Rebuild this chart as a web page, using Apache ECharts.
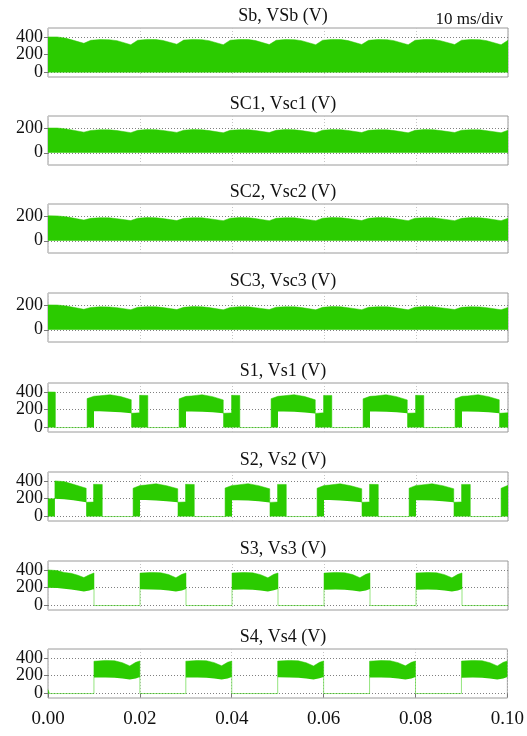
<!DOCTYPE html>
<html>
<head>
<meta charset="utf-8">
<script src="https://cdn.jsdelivr.net/npm/echarts@6/dist/echarts.min.js"></script>
<style>
  html, body { margin: 0; padding: 0; background: #fff; }
  #chart { width: 527px; height: 736px; }
</style>
</head>
<body>
<div id="chart"></div>
<script>
// ---- panel titles and tick labels ----
const TITLES = ['Sb, VSb (V)', 'SC1, Vsc1 (V)', 'SC2, Vsc2 (V)', 'SC3, Vsc3 (V)',
                'S1, Vs1 (V)', 'S2, Vs2 (V)', 'S3, Vs3 (V)', 'S4, Vs4 (V)'];
const Y_TICKS_HV = [0, 200, 400];
const Y_TICKS_LV = [0, 200];
const X_TICKS = [0, 0.02, 0.04, 0.06, 0.08, 0.10];

// ---- ripple envelopes (upper edge of the switching band, band starts at 0) ----
const T_RIP = [0, 0.0020, 0.0040, 0.0078, 0.0093, 0.0113, 0.0133, 0.0150,
  0.0180, 0.0195, 0.0215, 0.0235, 0.0250,
  0.0280, 0.0295, 0.0315, 0.0335, 0.0350,
  0.0381, 0.0396, 0.0416, 0.0436, 0.0451,
  0.0481, 0.0496, 0.0516, 0.0536, 0.0551,
  0.0582, 0.0597, 0.0617, 0.0637, 0.0652,
  0.0682, 0.0697, 0.0717, 0.0737, 0.0752,
  0.0783, 0.0798, 0.0818, 0.0838, 0.0853,
  0.0884, 0.0899, 0.0919, 0.0939, 0.0954,
  0.0985, 0.1000];
const V_SB = [400, 400, 384, 328, 362, 370, 368, 358,
  312, 362, 372, 370, 360,
  318, 364, 372, 369, 358,
  312, 363, 371, 370, 359,
  314, 362, 371, 369, 358,
  312, 363, 372, 370, 359,
  315, 362, 371, 369, 358,
  312, 362, 371, 370, 358,
  314, 363, 371, 369, 357,
  312, 362];
const V_SC1 = [202, 202, 194, 168, 182, 188, 187, 181,
  164, 183, 189, 188, 182,
  166, 184, 189, 187, 181,
  163, 183, 188, 188, 181,
  165, 183, 189, 187, 181,
  163, 184, 189, 188, 182,
  165, 183, 188, 187, 181,
  163, 183, 189, 188, 181,
  165, 184, 188, 187, 180,
  163, 184];
const V_SC2 = [204, 203, 195, 169, 183, 188, 187, 180,
  165, 184, 189, 187, 181,
  165, 183, 188, 187, 180,
  164, 184, 189, 188, 181,
  164, 183, 188, 187, 180,
  164, 184, 189, 187, 181,
  165, 183, 189, 188, 181,
  164, 184, 188, 187, 180,
  164, 183, 189, 187, 181,
  164, 183];
const V_SC3 = [203, 202, 194, 167, 182, 187, 186, 180,
  164, 183, 188, 187, 181,
  165, 183, 189, 187, 181,
  163, 182, 188, 187, 180,
  165, 184, 188, 187, 181,
  163, 183, 189, 187, 180,
  164, 183, 188, 187, 181,
  163, 184, 189, 187, 180,
  165, 183, 188, 186, 180,
  163, 182];

// ---- switch voltages: time, lower and upper edge of the band ----
const T_S1 = [0, 0.0016, 0.0016, 0.0085, 0.0085, 0.0100, 0.0100, 0.0112, 0.0112, 0.0135, 0.0158, 0.0181, 0.0181, 0.0199, 0.0199, 0.0217, 0.0217,
  0.0285, 0.0285, 0.0300, 0.0300, 0.0312, 0.0312, 0.0335, 0.0358, 0.0381, 0.0381, 0.0399, 0.0399, 0.0417, 0.0417,
  0.0485, 0.0485, 0.0500, 0.0500, 0.0512, 0.0512, 0.0535, 0.0558, 0.0581, 0.0581, 0.0599, 0.0599, 0.0617, 0.0617,
  0.0685, 0.0685, 0.0700, 0.0700, 0.0712, 0.0712, 0.0735, 0.0758, 0.0781, 0.0781, 0.0799, 0.0799, 0.0817, 0.0817,
  0.0885, 0.0885, 0.0900, 0.0900, 0.0912, 0.0912, 0.0935, 0.0958, 0.0981, 0.0981, 0.1000];
const LO_S1 = [0, 0, 0, 0, 0, 0, 182, 182, 182, 178, 172, 160, 0, 0, 0, 0, 0,
  0, 0, 0, 180, 180, 180, 177, 171, 160, 0, 0, 0, 0, 0,
  0, 0, 0, 181, 181, 181, 177, 170, 159, 0, 0, 0, 0, 0,
  0, 0, 0, 180, 180, 180, 176, 171, 160, 0, 0, 0, 0, 0,
  0, 0, 0, 181, 181, 181, 177, 171, 160, 0, 0];
const HI_S1 = [400, 398, 0, 0, 325, 352, 352, 356, 378, 368, 348, 312, 160, 165, 362, 360, 0,
  0, 322, 350, 350, 355, 376, 368, 347, 310, 160, 164, 362, 360, 0,
  0, 324, 351, 351, 356, 377, 369, 348, 311, 159, 165, 361, 360, 0,
  0, 322, 350, 350, 355, 376, 368, 347, 310, 160, 164, 362, 359, 0,
  0, 323, 351, 351, 355, 377, 368, 347, 311, 160, 166];

const T_S2 = [0, 0.0015, 0.0015, 0.0035, 0.0055, 0.0083, 0.0083, 0.0099, 0.0099, 0.0118, 0.0118,
  0.0185, 0.0185, 0.0200, 0.0200, 0.0212, 0.0212, 0.0235, 0.0258, 0.0282, 0.0282, 0.0299, 0.0299, 0.0318, 0.0318,
  0.0385, 0.0385, 0.0400, 0.0400, 0.0412, 0.0412, 0.0435, 0.0458, 0.0482, 0.0482, 0.0499, 0.0499, 0.0518, 0.0518,
  0.0585, 0.0585, 0.0600, 0.0600, 0.0612, 0.0612, 0.0635, 0.0658, 0.0682, 0.0682, 0.0699, 0.0699, 0.0718, 0.0718,
  0.0785, 0.0785, 0.0800, 0.0800, 0.0812, 0.0812, 0.0835, 0.0858, 0.0882, 0.0882, 0.0899, 0.0899, 0.0918, 0.0918,
  0.0985, 0.0985, 0.1000];
const LO_S2 = [0, 0, 200, 195, 182, 160, 0, 0, 0, 0, 0,
  0, 0, 0, 185, 185, 185, 180, 172, 160, 0, 0, 0, 0, 0,
  0, 0, 0, 184, 184, 184, 179, 172, 159, 0, 0, 0, 0, 0,
  0, 0, 0, 185, 185, 185, 180, 171, 160, 0, 0, 0, 0, 0,
  0, 0, 0, 184, 184, 184, 180, 172, 160, 0, 0, 0, 0, 0,
  0, 0, 0];
const HI_S2 = [200, 200, 400, 392, 362, 318, 160, 163, 362, 360, 0,
  0, 318, 348, 348, 354, 375, 368, 346, 312, 160, 164, 362, 360, 0,
  0, 320, 349, 349, 355, 376, 369, 347, 311, 159, 163, 361, 360, 0,
  0, 318, 348, 348, 354, 375, 368, 346, 312, 160, 164, 362, 359, 0,
  0, 319, 349, 349, 355, 376, 368, 347, 312, 160, 164, 361, 360, 0,
  0, 318, 350];

const T_S3 = [0, 0.0020, 0.0035, 0.0050, 0.0065, 0.0078, 0.0090, 0.0100, 0.0100,
  0.0200, 0.0200, 0.0225, 0.0245, 0.0262, 0.0278, 0.0291, 0.0300, 0.0300,
  0.0400, 0.0400, 0.0425, 0.0445, 0.0462, 0.0478, 0.0491, 0.0500, 0.0500,
  0.0600, 0.0600, 0.0625, 0.0645, 0.0662, 0.0678, 0.0691, 0.0700, 0.0700,
  0.0800, 0.0800, 0.0825, 0.0845, 0.0862, 0.0878, 0.0891, 0.0900, 0.0900,
  0.1000];
const LO_S3 = [200, 196, 188, 180, 168, 158, 168, 185, 0,
  0, 182, 180, 177, 170, 158, 170, 186, 0,
  0, 183, 181, 177, 169, 157, 171, 185, 0,
  0, 182, 180, 176, 170, 158, 170, 186, 0,
  0, 183, 180, 177, 169, 157, 170, 185, 0,
  0];
const HI_S3 = [400, 392, 372, 362, 340, 314, 345, 366, 0,
  0, 364, 372, 368, 348, 312, 350, 366, 0,
  0, 365, 371, 367, 347, 311, 351, 365, 0,
  0, 364, 372, 368, 348, 312, 350, 366, 0,
  0, 365, 371, 368, 347, 311, 350, 366, 0,
  0];

const T_S4 = [0, 0.0003, 0.0100,
  0.0100, 0.0125, 0.0145, 0.0162, 0.0178, 0.0191, 0.0200, 0.0200,
  0.0300, 0.0300, 0.0325, 0.0345, 0.0362, 0.0378, 0.0391, 0.0400, 0.0400,
  0.0500, 0.0500, 0.0525, 0.0545, 0.0562, 0.0578, 0.0591, 0.0600, 0.0600,
  0.0700, 0.0700, 0.0725, 0.0745, 0.0762, 0.0778, 0.0791, 0.0800, 0.0800,
  0.0900, 0.0900, 0.0925, 0.0945, 0.0962, 0.0978, 0.0991, 0.1000];
const LO_S4 = [0, 0, 0,
  180, 180, 176, 169, 157, 170, 186, 0,
  0, 181, 180, 177, 170, 158, 170, 185, 0,
  0, 182, 181, 176, 169, 157, 171, 186, 0,
  0, 181, 180, 177, 170, 158, 170, 185, 0,
  0, 182, 180, 177, 169, 157, 170, 186];
const HI_S4 = [45, 0, 0,
  362, 372, 368, 346, 310, 350, 366, 0,
  0, 363, 371, 368, 347, 311, 351, 365, 0,
  0, 364, 372, 367, 346, 310, 350, 366, 0,
  0, 363, 371, 368, 347, 311, 350, 365, 0,
  0, 364, 372, 368, 346, 310, 350, 366];

// ---- layout ----
const PLOT_LEFT = 48, PLOT_RIGHT = 19, PLOT_H = 49;
const PLOT_TOPS = [28, 116, 204, 293, 383, 472, 561, 649];
const SERIF = 'Liberation Serif';
const GREEN = '#2bcb00';
const EDGE = 'rgba(43,203,0,0.5)';

const Y_RANGES = [[-50, 500], [-100, 300], [-100, 300], [-100, 300],
                  [-50, 500], [-50, 500], [-50, 500], [-50, 500]];
const Y_TICKS = [Y_TICKS_HV, Y_TICKS_LV, Y_TICKS_LV, Y_TICKS_LV,
                 Y_TICKS_HV, Y_TICKS_HV, Y_TICKS_HV, Y_TICKS_HV];

const grids = [], xAxes = [], yAxes = [], titles = [], series = [];

PLOT_TOPS.forEach((top, i) => {
  grids.push({
    left: PLOT_LEFT, right: PLOT_RIGHT, top: top, height: PLOT_H,
    show: true, borderColor: '#9a9a9a', borderWidth: 1, backgroundColor: 'transparent'
  });
  const last = i === PLOT_TOPS.length - 1;
  xAxes.push({
    gridIndex: i, type: 'value', min: 0, max: 0.1, interval: 0.02,
    axisLine: { show: false },
    axisTick: { show: last, length: 4, lineStyle: { color: '#777' } },
    axisLabel: {
      show: last, margin: 12, color: '#111', fontFamily: SERIF, fontSize: 19,
      formatter: v => v.toFixed(2)
    },
    splitLine: { show: true, lineStyle: { type: [1, 2], color: '#c4c4c4', width: 1 } }
  });
  yAxes.push({
    gridIndex: i, type: 'value', min: Y_RANGES[i][0], max: Y_RANGES[i][1],
    axisLine: { show: false },
    axisTick: { show: true, length: 4, customValues: Y_TICKS[i], lineStyle: { color: '#777' } },
    axisLabel: {
      customValues: Y_TICKS[i], margin: 5, color: '#111',
      fontFamily: SERIF, fontSize: 18
    },
    splitLine: { show: true, lineStyle: { type: [1, 2], color: '#808080', width: 1 } }
  });
  titles.push({
    text: TITLES[i], left: 278, top: top - 26, textAlign: 'center',
    textStyle: { fontFamily: SERIF, fontSize: 18, fontWeight: 'normal', color: '#111' }
  });
});

titles.push({
  text: '10 ms/div', right: PLOT_RIGHT, top: 6,
  textStyle: { fontFamily: SERIF, fontSize: 17, fontWeight: 'normal', color: '#111' }
});

// band filled from the zero line up to an envelope
function rippleSeries(i, T, V) {
  return {
    type: 'line', xAxisIndex: i, yAxisIndex: i, symbol: 'none',
    data: T.map((t, j) => [t, V[j]]),
    lineStyle: { color: EDGE, width: 1 },
    areaStyle: { color: GREEN, opacity: 1 }
  };
}

// band filled between a lower and an upper edge: the value column comes
// first so that the stack is taken on the voltage (y) dimension
function bandSeries(i, T, LO, HI) {
  const key = 'band' + i;
  return [{
    type: 'line', xAxisIndex: i, yAxisIndex: i, symbol: 'none',
    stack: key, stackStrategy: 'all',
    encode: { x: 1, y: 0 },
    data: T.map((t, j) => [LO[j], t]),
    lineStyle: { opacity: 0 }
  }, {
    type: 'line', xAxisIndex: i, yAxisIndex: i, symbol: 'none',
    stack: key, stackStrategy: 'all',
    encode: { x: 1, y: 0 },
    data: T.map((t, j) => [HI[j] - LO[j], t]),
    lineStyle: { color: EDGE, width: 1 },
    areaStyle: { color: GREEN, opacity: 1 }
  }];
}

series.push(rippleSeries(0, T_RIP, V_SB));
series.push(rippleSeries(1, T_RIP, V_SC1));
series.push(rippleSeries(2, T_RIP, V_SC2));
series.push(rippleSeries(3, T_RIP, V_SC3));
series.push(...bandSeries(4, T_S1, LO_S1, HI_S1));
series.push(...bandSeries(5, T_S2, LO_S2, HI_S2));
series.push(...bandSeries(6, T_S3, LO_S3, HI_S3));
series.push(...bandSeries(7, T_S4, LO_S4, HI_S4));

const chart = echarts.init(document.getElementById('chart'), null, { renderer: 'canvas' });
chart.setOption({
  animation: false,
  backgroundColor: '#fff',
  title: titles,
  grid: grids,
  xAxis: xAxes,
  yAxis: yAxes,
  series: series
});
</script>
</body>
</html>
